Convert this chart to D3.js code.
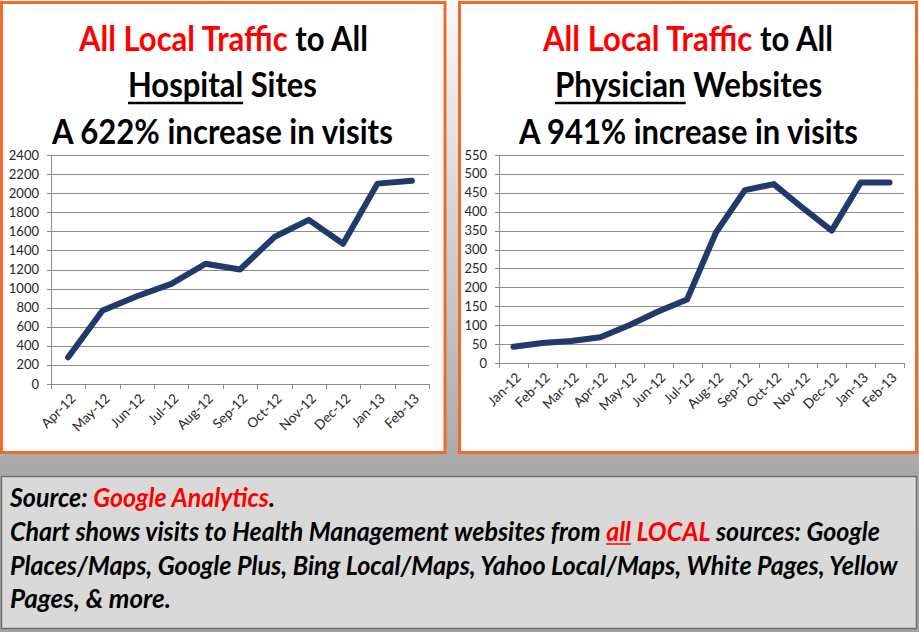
<!DOCTYPE html>
<html><head><meta charset="utf-8">
<script src="https://cdn.jsdelivr.net/npm/d3@7"></script>
<style>
html,body{margin:0;padding:0;background:#a6a6a6;}
svg{display:block;}
</style>
</head><body>
<svg id="c" width="919" height="632"></svg>
<script>
// ---------- DATA ----------
const hospitalMonths = ["Apr-12","May-12","Jun-12","Jul-12","Aug-12","Sep-12","Oct-12","Nov-12","Dec-12","Jan-13","Feb-13"];
const hospitalVisits = [280, 770, 920, 1050, 1260, 1200, 1540, 1720, 1470, 2100, 2130];
const hospitalTicks = [0,200,400,600,800,1000,1200,1400,1600,1800,2000,2200,2400];

const physicianMonths = ["Jan-12","Feb-12","Mar-12","Apr-12","May-12","Jun-12","Jul-12","Aug-12","Sep-12","Oct-12","Nov-12","Dec-12","Jan-13","Feb-13"];
const physicianVisits = [43, 53, 58, 68, 100, 136, 168, 345, 457, 473, 410, 350, 477, 477];
const physicianTicks = [0,50,100,150,200,250,300,350,400,450,500,550];

const hospitalTitle = [
  [{t:"All Local Traffic", c:"#ff0000"},{t:" to All", c:"#000"}],
  [{t:"Hospital", c:"#000", u:true},{t:" Sites", c:"#000"}],
  [{t:"A 622% increase in visits", c:"#000"}]
];
const physicianTitle = [
  [{t:"All Local Traffic", c:"#ff0000"},{t:" to All", c:"#000"}],
  [{t:"Physician", c:"#000", u:true},{t:" Websites", c:"#000"}],
  [{t:"A 941% increase in visits", c:"#000"}]
];
const noteLines = [
  [{t:"Source: ", c:"#000"},{t:"Google Analytics", c:"#ff0000"},{t:".", c:"#000"}],
  [{t:"Chart shows visits to Health Management websites from ", c:"#000"},{t:"all", c:"#ff0000", u:true},{t:" ", c:"#000"},{t:"LOCAL", c:"#ff0000"},{t:" sources: Google", c:"#000"}],
  [{t:"Places/Maps, Google Plus, Bing Local/Maps, Yahoo Local/Maps, White Pages, Yellow", c:"#000"}],
  [{t:"Pages, & more.", c:"#000"}]
];

// ---------- DRAW ----------
const svg = d3.select("#c");
const defs = svg.append("defs");
const grad = defs.append("linearGradient").attr("id","bg").attr("x1",0).attr("y1",0).attr("x2",0).attr("y2",1);
grad.append("stop").attr("offset","0%").attr("stop-color","#f9f9f9");
grad.append("stop").attr("offset","75%").attr("stop-color","#a8a8a8");
grad.append("stop").attr("offset","100%").attr("stop-color","#a3a3a3");
svg.append("rect").attr("width",919).attr("height",632).attr("fill","url(#bg)");

const ORANGE = "#ef6a2b";
const LINE = "#1f3a6b";
const TITLE_FONT = "Lato, 'Open Sans', sans-serif";
const TICK_FONT = "Lato, 'Open Sans', sans-serif";

// A line made of coloured parts, horizontally scaled (via transform) to fit a target width.
function richText(g, parts, x, y, len, opts) {
  const style = s => s.attr("font-family", opts.family).attr("font-size", opts.size)
    .attr("font-weight", "bold").attr("font-style", opts.style || "normal")
    .style("white-space", "pre");
  const measure = str => {
    const m = g.append("text").call(style).text(str);
    const w = m.node().getComputedTextLength();
    m.remove();
    return w;
  };
  const widths = parts.map(p => measure(p.t));
  const spaceW = measure("a a") - measure("aa");
  const total = d3.sum(widths);
  const k = len / total;
  const gg = g.append("g").attr("transform", `translate(${x},${y}) scale(${k},1)`);
  let cx = 0;
  parts.forEach((p, i) => {
    const lead = p.t.match(/^ */)[0].length;
    const trail = p.t.match(/ *$/)[0].length;
    const core = p.t.trim();
    if (core.length) {
      const x0 = cx + lead * spaceW;
      const cw = widths[i] - (lead + trail) * spaceW;
      gg.append("text").call(style).attr("x", x0).attr("y", 0).attr("fill", p.c).text(core);
      if (p.u) {
        gg.append("line").attr("x1", x0).attr("x2", x0 + cw)
          .attr("y1", opts.uOff).attr("y2", opts.uOff)
          .attr("stroke", p.c).attr("stroke-width", opts.uW);
      }
    }
    cx += widths[i];
  });
}

function panel(cfg) {
  const g = svg.append("g");
  g.append("rect").attr("x", cfg.box[0]).attr("y", cfg.box[1]).attr("width", cfg.box[2]).attr("height", cfg.box[3])
    .attr("fill", "#fff").attr("stroke", ORANGE).attr("stroke-width", 3);

  cfg.title.forEach((parts, i) => {
    const L = cfg.titleLines[i];
    richText(g, parts, L[0], L[1], L[2], {family: TITLE_FONT, size: 34, uOff: 6, uW: 2.5});
  });

  const x = d3.scaleBand().domain(cfg.cats).range([cfg.x0, cfg.x1]).padding(0);
  const y = d3.scaleLinear().domain([0, cfg.ticks[cfg.ticks.length - 1]]).range([cfg.y0, cfg.y1]);

  // gridlines + y labels
  g.append("g").selectAll("line").data(cfg.ticks).join("line")
    .attr("x1", cfg.x0 - 4).attr("x2", cfg.x1)
    .attr("y1", d => Math.round(y(d)) + 0.5).attr("y2", d => Math.round(y(d)) + 0.5)
    .attr("stroke", "#8c8c8c").attr("stroke-width", 1);
  g.append("g").selectAll("text").data(cfg.ticks).join("text")
    .attr("x", cfg.x0 - 12).attr("y", d => y(d)).attr("dy", "0.35em")
    .attr("text-anchor", "end").attr("font-family", TICK_FONT).attr("font-size", 13)
    .attr("fill", "#262626").text(d => d);

  // y axis line
  g.append("line").attr("x1", cfg.x0 + 0.5).attr("x2", cfg.x0 + 0.5)
    .attr("y1", y(cfg.ticks[cfg.ticks.length - 1])).attr("y2", cfg.y0 + 5)
    .attr("stroke", "#8c8c8c");
  // x tick marks at band boundaries
  const bounds = cfg.cats.map(c => x(c)).concat([cfg.x1]);
  g.append("g").selectAll("line").data(bounds).join("line")
    .attr("x1", d => Math.round(d) + 0.5).attr("x2", d => Math.round(d) + 0.5)
    .attr("y1", cfg.y0).attr("y2", cfg.y0 + 5)
    .attr("stroke", "#8c8c8c");
  // x labels
  g.append("g").selectAll("text").data(cfg.cats).join("text")
    .attr("transform", d => `translate(${x(d) + x.bandwidth() / 2 + 5},${cfg.y0 + 12}) rotate(-45)`)
    .attr("text-anchor", "end").attr("dy", "0.35em")
    .attr("font-family", TICK_FONT).attr("font-size", 13.5).attr("fill", "#262626")
    .text(d => d);

  // line
  const line = d3.line().x((d, i) => x(cfg.cats[i]) + x.bandwidth() / 2).y(d => y(d));
  g.append("path").datum(cfg.values).attr("d", line)
    .attr("fill", "none").attr("stroke", LINE).attr("stroke-width", 6)
    .attr("stroke-linejoin", "round").attr("stroke-linecap", "round");
}

panel({
  box: [1.5, 2.5, 443.5, 450],
  title: hospitalTitle,
  titleLines: [[79, 51, 289], [128, 97, 189], [52, 144, 341]],
  cats: hospitalMonths, values: hospitalVisits, ticks: hospitalTicks,
  x0: 51, x1: 429, y0: 384, y1: 155
});
panel({
  box: [459.5, 2.5, 457, 450],
  title: physicianTitle,
  titleLines: [[543, 51, 290], [555, 97, 267], [519, 144, 339]],
  cats: physicianMonths, values: physicianVisits, ticks: physicianTicks,
  x0: 499, x1: 904, y0: 363, y1: 155
});

// note box
const nb = svg.append("g");
nb.append("rect").attr("x", 1.5).attr("y", 476.5).attr("width", 915).attr("height", 152)
  .attr("fill", "#d9d9d9").attr("stroke", "#6f6f6f").attr("stroke-width", 1.5);
const noteBase = [507, 541, 575, 608];
const noteLen = [265, 870, 888, 161];
noteLines.forEach((parts, i) => {
  richText(nb, parts, 10, noteBase[i], noteLen[i], {family: TITLE_FONT, size: 27, style: "italic", uOff: 3, uW: 1.5});
});
</script>
</body></html>
